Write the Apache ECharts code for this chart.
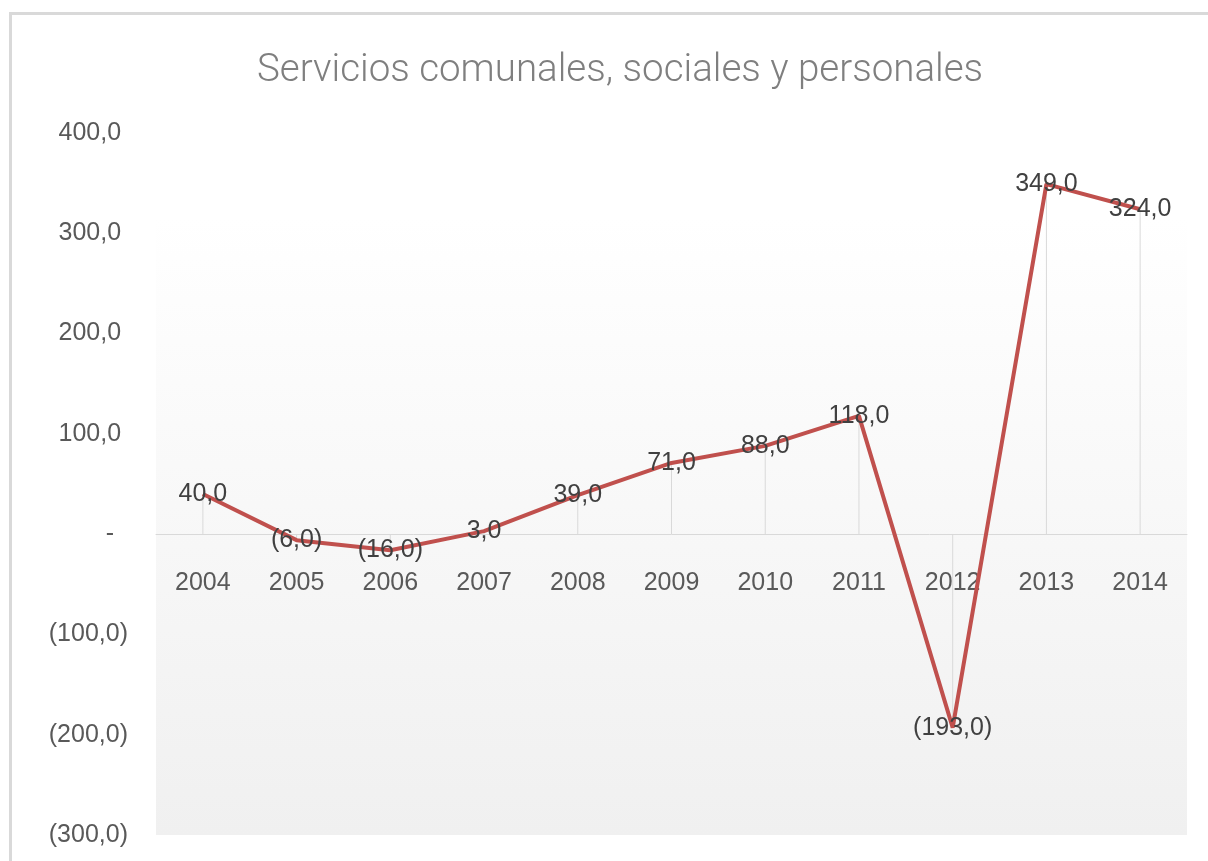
<!DOCTYPE html>
<html>
<head>
<meta charset="utf-8">
<script src="https://cdn.jsdelivr.net/npm/echarts@6/dist/echarts.min.js"></script>
<style>
  html, body { margin: 0; padding: 0; background: #fff; }
  .frame { position: absolute; left: 9px; top: 12px; width: 1300px; height: 900px; border-left: 3px solid #d9d9d9; border-top: 3px solid #d9d9d9; }
  #chart { position: absolute; left: 0; top: 0; width: 1208px; height: 861px; }
</style>
</head>
<body>
<div class="frame"></div>
<div id="chart"></div>
<script>
const years = ['2004', '2005', '2006', '2007', '2008', '2009', '2010', '2011', '2012', '2013', '2014'];
const values = [40, -6, -16, 3, 39, 71, 88, 118, -193, 349, 324];
const yTicks = { min: -300, max: 400, step: 100 };

function fmt(v) {
  if (v === 0) return '-';
  const s = Math.abs(v).toFixed(1).replace('.', ',');
  return v < 0 ? '(' + s + ')' : s;
}

// axis labels keep the accounting-style padding on the right
function fmtAxis(v) {
  if (v === 0) return '-  ';
  return v < 0 ? fmt(v) : fmt(v) + ' ';
}

const gridTop = 133, gridBottom = 26, chartH = 861;
const plotH = chartH - gridTop - gridBottom;
// distance from the bottom of the plot to the zero line
const zeroOffset = plotH * (0 - yTicks.min) / (yTicks.max - yTicks.min);

const chart = echarts.init(document.getElementById('chart'));
chart.setOption({
  animation: false,
  title: {
    text: 'Servicios comunales, sociales y personales',
    left: 252, top: 47,
    textStyle: { fontFamily: 'Roboto', fontWeight: 300, fontSize: 38.5, color: '#7f7f7f' }
  },
  grid: {
    left: 156, top: gridTop, right: 21, bottom: gridBottom,
    outerBoundsMode: 'none',
    show: true, borderWidth: 0,
    backgroundColor: new echarts.graphic.LinearGradient(0, 0, 0, 1, [
      { offset: 0, color: '#ffffff' },
      { offset: 0.12, color: '#ffffff' },
      { offset: 1, color: '#f0f0f0' }
    ])
  },
  xAxis: {
    type: 'category', data: years,
    position: 'bottom', offset: -zeroOffset,
    axisLine: { onZero: false, lineStyle: { color: '#d9d9d9', width: 1 } },
    axisTick: { show: false },
    axisLabel: { margin: 36, fontFamily: 'Liberation Sans', fontSize: 25, color: '#595959' }
  },
  yAxis: {
    type: 'value', min: yTicks.min, max: yTicks.max, interval: yTicks.step,
    splitLine: { show: false },
    axisLine: { show: false },
    axisLabel: { margin: 28, fontFamily: 'Liberation Sans', fontSize: 25, color: '#595959', formatter: fmtAxis }
  },
  series: [
    {
      type: 'bar', data: values, barWidth: 1, silent: true,
      itemStyle: { color: '#d9d9d9' }, z: 1
    },
    {
      type: 'line', data: values, symbol: 'circle', symbolSize: 0, showSymbol: true, z: 3,
      lineStyle: { color: '#c0504d', width: 4 },
      itemStyle: { color: '#c0504d' },
      label: {
        show: true, position: 'inside',
        fontFamily: 'Liberation Sans', fontSize: 25, color: '#404040',
        formatter: p => fmt(p.value)
      }
    }
  ]
});
</script>
</body>
</html>
